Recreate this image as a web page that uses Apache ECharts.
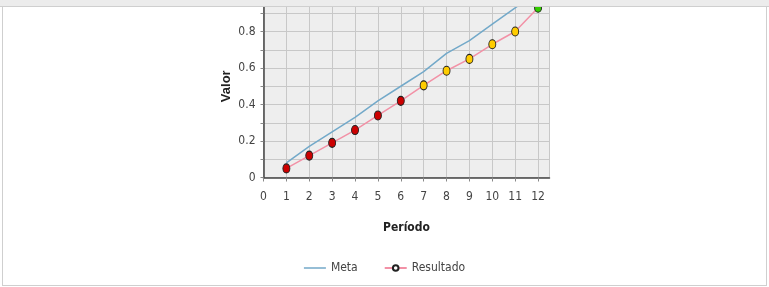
<!DOCTYPE html>
<html>
<head>
<meta charset="utf-8">
<script src="https://cdn.jsdelivr.net/npm/echarts@6/dist/echarts.min.js"></script>
<style>
html,body{margin:0;padding:0;width:769px;height:287px;overflow:hidden;background:#fff;}
#wrap{position:absolute;left:0;top:0;width:769px;height:287px;overflow:hidden;}
#chart{position:absolute;left:0;top:-30px;width:769px;height:317px;}
#topbar{position:absolute;left:0;top:0;width:769px;height:6px;background:#ececec;border-bottom:1px solid #cfcfcf;z-index:5;}
#lb{position:absolute;left:2px;top:7px;width:1px;height:279px;background:#cfcfcf;z-index:5;}
#rb{position:absolute;left:766px;top:7px;width:1px;height:279px;background:#cfcfcf;z-index:5;}
#bb{position:absolute;left:2px;top:285px;width:765px;height:1px;background:#cfcfcf;z-index:5;}
</style>
</head>
<body>
<div id="wrap">
<div id="chart"></div>
<div id="topbar"></div><div id="lb"></div><div id="rb"></div><div id="bb"></div>
</div>
<script>
var periods = [1,2,3,4,5,6,7,8,9,10,11,12];
var meta = [0.08,0.17,0.25,0.33,0.42,0.50,0.58,0.68,0.75,0.84,0.93,1.02];
var resultado = [0.05,0.12,0.19,0.26,0.34,0.42,0.505,0.585,0.65,0.73,0.80,0.93];
var pointColors = ['#cc0000','#cc0000','#cc0000','#cc0000','#cc0000','#cc0000','#ffcc00','#ffcc00','#ffcc00','#ffcc00','#ffcc00','#33cc00'];
var xTicks = [0,1,2,3,4,5,6,7,8,9,10,11,12];
var seriesNames = ['Meta','Resultado'];

var chart = echarts.init(document.getElementById('chart'));
var font = '"DejaVu Sans Condensed","DejaVu Sans",sans-serif';
chart.setOption({
  animation:false,
  backgroundColor:'transparent',
  grid:{left:263.5,right:219.5,top:25,bottom:109.5,show:true,backgroundColor:'#eeeeee',borderWidth:0},
  legend:{
    bottom:8,left:'center',itemGap:26,itemWidth:22,itemHeight:7,
    textStyle:{fontFamily:font,fontSize:12,color:'#444'},
    data:[{name:seriesNames[0],icon:'path://M0,0L22,0L22,1.5L0,1.5Z'},{name:seriesNames[1]}]
  },
  xAxis:{
    type:'value',min:0,max:12.5,interval:1,
    name:'Período',nameLocation:'middle',nameGap:44,
    nameTextStyle:{fontFamily:font,fontSize:12,fontWeight:'bold',color:'#222'},
    axisLine:{show:true,onZero:false,lineStyle:{color:'#444',width:1.5}},
    axisTick:{show:true,length:4,lineStyle:{color:'#888'}},
    axisLabel:{fontFamily:font,fontSize:12,color:'#444',margin:13,showMaxLabel:false,
      formatter:function(v){return xTicks.indexOf(v)>=0?String(v):'';}},
    splitLine:{show:true,lineStyle:{color:'#c8c8c8',width:1}}
  },
  yAxis:{
    type:'value',min:0,max:1.0,interval:0.1,
    name:'Valor',nameLocation:'middle',nameGap:31,nameRotate:90,
    nameTextStyle:{fontFamily:'"Liberation Sans",Arial,sans-serif',fontSize:13,fontWeight:'bold',color:'#222'},
    axisLine:{show:true,lineStyle:{color:'#444',width:1.5}},
    axisTick:{show:true,length:3,lineStyle:{color:'#888'}},
    axisLabel:{fontFamily:font,fontSize:12,color:'#444',margin:8,
      formatter:function(v){var k=Math.round(v*10);if(k%2!==0)return '';return k===0?'0':(k/10).toFixed(1);}},
    splitLine:{show:true,lineStyle:{color:'#c8c8c8',width:1}}
  },
  series:[
    {name:seriesNames[0],type:'line',showSymbol:false,symbol:'none',
      lineStyle:{color:'#73a9c9',width:1.5},itemStyle:{color:'#73a9c9'},
      data:periods.map(function(p,i){return [p,meta[i]];})},
    {name:seriesNames[1],type:'line',symbol:'circle',symbolSize:[7,9],
      lineStyle:{color:'#f291a6',width:1.5},
      itemStyle:{color:'#ffffff',borderColor:'#222',borderWidth:1},
      data:periods.map(function(p,i){return {value:[p,resultado[i]],itemStyle:{color:pointColors[i],borderColor:'#222',borderWidth:1}};})}
  ]
});
</script>
</body>
</html>
